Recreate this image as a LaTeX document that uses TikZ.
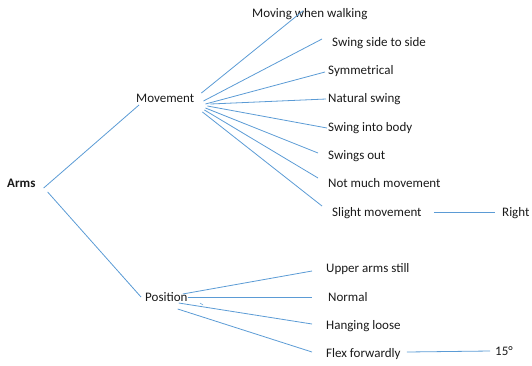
\documentclass[tikz,border=0pt]{standalone}
\usepackage{fontspec}
\setmainfont{Carlito}
\definecolor{branch}{HTML}{5B9BD5}
\definecolor{ink}{HTML}{1A1A1A}
\tikzset{
  word/.style={anchor=west, inner sep=0pt, text=ink, text height=10pt, text depth=2pt,
    font=\fontsize{13}{15}\selectfont},
  root/.style={word, font=\fontsize{13}{15}\selectfont\bfseries},
  link/.style={draw=branch, line width=0.8pt}
}

\begin{document}
\begin{tikzpicture}[x=1pt, y=-1pt]
    \useasboundingbox (0,0) rectangle (532,365);
    % words
    \node[root] (arms) at (7,183) {Arms};
    \node[word] (mov) at (136,98) {Movement};
    \node[word] (pos) at (145,297) {Position};
    \node[word] (walk) at (252,13) {Moving when walking};
    \node[word] (side) at (332,42) {Swing side to side};
    \node[word] (sym) at (328,70) {Symmetrical};
    \node[word] (nat) at (328,98) {Natural swing};
    \node[word] (body) at (328,127) {Swing into body};
    \node[word] (out) at (328,155) {Swings out};
    \node[word] (notmuch) at (328,183) {Not much movement};
    \node[word] (slight) at (332,212) {Slight movement};
    \node[word] (right) at (502,212) {Right};
    \node[word] (upper) at (326,268) {Upper arms still};
    \node[word] (normal) at (328,297) {Normal};
    \node[word] (hanging) at (326,325) {Hanging loose};
    \node[word] (flex) at (326,353) {Flex forwardly};
    \node[word] (deg) at (495,351) {15°};
    % branches
    \draw[link] ([shift={(8,5)}]arms.east) -- ([shift={(3,7)}]mov.west);
    \draw[link] ([shift={(12,9)}]arms.east) -- ([shift={(-4,0)}]pos.west);
    \draw[link] ([shift={(7,-5)}]mov.east) -- ([shift={(-7,-2)}]walk.center);
    \draw[link] ([shift={(9,3)}]mov.east) -- ([shift={(-10,-3)}]side.west);
    \draw[link] ([shift={(11,6)}]mov.east) -- ([shift={(-3,2)}]sym.west);
    \draw[link] ([shift={(16,6)}]mov.east) -- ([shift={(-2,1)}]nat.west);
    \draw[link] ([shift={(13,8)}]mov.east) -- ([shift={(-1,1)}]body.west);
    \draw[link] ([shift={(11,10)}]mov.east) -- ([shift={(-10,-2)}]out.west);
    \draw[link] ([shift={(10,12)}]mov.east) -- ([shift={(-10,-5)}]notmuch.west);
    \draw[link] ([shift={(8,14)}]mov.east) -- ([shift={(-10,-6)}]slight.west);
    \draw[link] ([shift={(12,0)}]slight.east) -- ([shift={(-7,0)}]right.west);
    \draw[link] ([shift={(-5,-3)}]pos.east) -- ([shift={(-14,3)}]upper.west);
    \draw[link] (pos.east) -- ([shift={(-16,0)}]normal.west);
    \draw[link] ([shift={(-9,6)}]pos.east) -- ([shift={(-14,-1)}]hanging.west);
    \draw[link] ([shift={(-10,12)}]pos.east) -- ([shift={(-14,-1)}]flex.west);
    \draw[link] ([shift={(6,-1)}]flex.east) -- ([shift={(-5,0)}]deg.west);
    \draw[link, line width=0.5pt] (200,303) -- (203,305);
\end{tikzpicture}
\end{document}
